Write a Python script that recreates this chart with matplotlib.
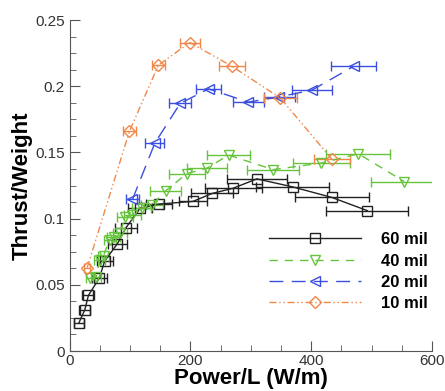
import matplotlib
matplotlib.use("Agg")
import matplotlib.pyplot as plt
from matplotlib.ticker import MultipleLocator

plt.rcParams['font.family'] = ['Liberation Sans', 'DejaVu Sans']

# 60 mil
x60 = [15, 25, 31, 49, 58, 79, 93, 117, 148, 204, 236, 271, 310, 369, 434, 493]
y60 = [0.021, 0.031, 0.042, 0.055, 0.068, 0.081, 0.093, 0.108, 0.111, 0.113, 0.119, 0.123, 0.130, 0.124, 0.116, 0.106]
e60 = [8, 9, 10, 12, 13, 16, 18, 20, 22, 23, 35, 47, 50, 60, 61, 68]

# 40 mil
x40 = [34, 44, 50, 56, 66, 73, 83, 92, 104, 119, 136, 159, 194, 227, 263, 337, 417, 478, 554]
y40 = [0.055, 0.056, 0.069, 0.072, 0.084, 0.086, 0.089, 0.101, 0.103, 0.108, 0.110, 0.121, 0.134, 0.138, 0.148, 0.137, 0.142, 0.149, 0.128]
e40 = [7, 8, 9, 9, 10, 11, 12, 13, 14, 16, 18, 26, 30, 33, 36, 43, 47, 53, 55]

# 20 mil
x20 = [104, 141, 183, 230, 296, 347, 401, 470]
y20 = [0.1145, 0.157, 0.187, 0.198, 0.188, 0.192, 0.197, 0.215]
e20 = [11, 16, 18, 21, 25, 26, 33, 37]

# 10 mil
x10 = [29, 99, 147, 199, 269, 349, 434]
y10 = [0.063, 0.166, 0.216, 0.233, 0.215, 0.191, 0.145]
e10 = [5, 10, 11, 17, 21, 27, 30]

labels = ['60 mil', '40 mil', '20 mil', '10 mil']
colors = ['#222222', '#66c43c', '#3a4fe0', '#f0884a']

fig = plt.figure(figsize=(4.45, 3.91), dpi=100)
ax = fig.add_axes([0.1566, 0.1023, 0.8142, 0.8465])

series = [
    (x60, y60, e60, 's', '-', None),
    (x40, y40, e40, 'v', '--', (6, 5)),
    (x20, y20, e20, '<', '--', (10, 6)),
    (x10, y10, e10, 'D', '-.', (5, 2, 1, 2, 1, 2)),
]
handles = []
for (x, y, e, m, ls, d), c, lab in zip(series, colors, labels):
    ms = 6.5 if m == 'D' else 7.5
    ax.errorbar(x, y, xerr=e, fmt='none', ecolor=c, elinewidth=1, capsize=3.5, capthick=1, zorder=2)
    ln, = ax.plot(x, y, color=c, lw=1, ls=ls, marker=m, ms=ms, mfc='none', mec=c, mew=1, label=lab, zorder=3)
    if d is not None:
        ln.set_dashes(d)
    handles.append(ln)

ax.set_xlim(0, 600)
ax.set_ylim(0, 0.25)
ax.xaxis.set_major_locator(MultipleLocator(200))
ax.xaxis.set_minor_locator(MultipleLocator(50))
ax.yaxis.set_major_locator(MultipleLocator(0.05))
ax.yaxis.set_minor_locator(MultipleLocator(0.0125))
ax.set_yticks([0, 0.05, 0.1, 0.15, 0.2, 0.25])
ax.set_yticklabels(['0', '0.05', '0.1', '0.15', '0.2', '0.25'])
ax.set_xticks([0, 200, 400, 600])
ax.set_xticklabels(['0', '200', '400', '600'])
for s in ['top', 'right']:
    ax.spines[s].set_visible(False)
for s in ['left', 'bottom']:
    ax.spines[s].set_color('#555555')
ax.tick_params(which='both', direction='in', colors='#555555', labelcolor='#333333', labelsize=11)
ax.tick_params(which='major', length=7)
ax.tick_params(which='minor', length=4)
ax.tick_params(axis='x', pad=2)

ax.set_xlabel('Power/L (W/m)', fontsize=16, fontweight='bold', labelpad=0)
ax.set_ylabel('Thrust/Weight', fontsize=16, fontweight='bold', labelpad=2)

leg = ax.legend(handles=handles, loc='lower right', bbox_to_anchor=(1.03, 0.075), frameon=False,
                handlelength=5.5, prop={'weight': 'bold', 'size': 12},
                labelspacing=0.38, handletextpad=1.2)

fig.savefig('out.png', dpi=100)
